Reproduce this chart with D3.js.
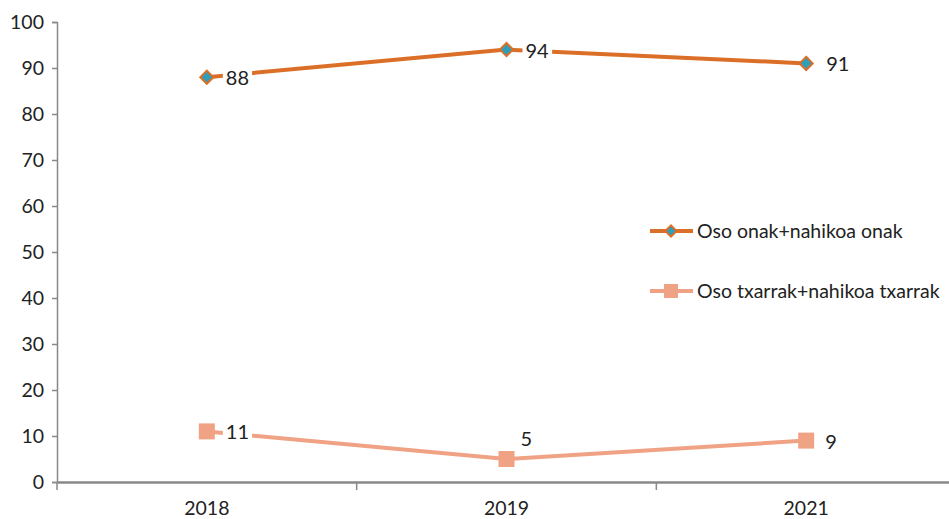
<!DOCTYPE html>
<html>
<head>
<meta charset="utf-8">
<script src="https://cdn.jsdelivr.net/npm/d3@7"></script>
<style>
  body { margin: 0; background: #fff; }
  svg text { font-family: Lato, "Open Sans", sans-serif; fill: #222; }
</style>
</head>
<body>
<div id="chart"></div>
<script>
const years = ['2018', '2019', '2021'];
const onak = [88, 94, 91];
const txarrak = [11, 5, 9];
const seriesNames = ['Oso onak+nahikoa onak', 'Oso txarrak+nahikoa txarrak'];
const yTicks = [0, 10, 20, 30, 40, 50, 60, 70, 80, 90, 100];

const width = 949, height = 519;
const orange = '#dc6f28', teal = '#2f9fb9', salmon = '#f0a284';

const svg = d3.select('#chart').append('svg')
    .attr('width', width)
    .attr('height', height);

const x = d3.scaleBand().domain(years).range([57, 956]);
const y = d3.scaleLinear().domain([0, 100]).range([482, 22]);

// y axis
const yAxis = svg.append('g')
    .attr('transform', 'translate(57,0)')
    .call(d3.axisLeft(y).tickValues(yTicks).tickSize(5).tickPadding(8));
yAxis.select('.domain').attr('stroke', '#888').attr('stroke-width', 1.5);
yAxis.selectAll('.tick line').attr('stroke', '#888').attr('stroke-width', 1.5);
yAxis.selectAll('.tick text').attr('font-size', 19.5).attr('fill', '#222')
    .style('font-family', 'Lato, sans-serif');

// x axis
const xAxis = svg.append('g')
    .attr('transform', 'translate(0,482)')
    .call(d3.axisBottom(x).tickSize(0).tickPadding(19));
xAxis.select('.domain').attr('stroke', '#888').attr('stroke-width', 2.5);
xAxis.selectAll('.tick text').attr('font-size', 19.5).attr('fill', '#222')
    .style('font-family', 'Lato, sans-serif');
// tick marks between categories
svg.append('g').selectAll('line')
    .data(years.map(d => x(d)).concat([x.range()[1]]))
    .join('line')
    .attr('x1', d => d).attr('x2', d => d)
    .attr('y1', 482).attr('y2', 490)
    .attr('stroke', '#888').attr('stroke-width', 1.5);

const cx = d => x(d) + x.bandwidth() / 2;
const line = d3.line().x((d, i) => cx(years[i])).y(d => y(d));

// series lines
svg.append('path').datum(onak)
    .attr('d', line).attr('fill', 'none')
    .attr('stroke', orange).attr('stroke-width', 4);
svg.append('path').datum(txarrak)
    .attr('d', line).attr('fill', 'none')
    .attr('stroke', salmon).attr('stroke-width', 4);

// data labels with white boxes
const labelPos = [
    [{dx: 19, dy: 1}, {dx: 19, dy: 1}, {dx: 20, dy: 1}],
    [{dx: 19, dy: 1}, {dx: 14, dy: -20}, {dx: 19, dy: 1}]
];
function addLabels(vals, pos) {
    vals.forEach((v, i) => {
        const px = cx(years[i]) + pos[i].dx;
        const py = y(v) + pos[i].dy;
        const g = svg.append('g');
        const t = g.append('text')
            .attr('x', px).attr('y', py)
            .attr('dy', '0.35em')
            .attr('font-size', 20)
            .text(v);
        const bb = t.node().getBBox();
        g.insert('rect', 'text')
            .attr('x', bb.x - 3).attr('y', bb.y)
            .attr('width', bb.width + 6).attr('height', bb.height)
            .attr('fill', '#fff');
    });
}
addLabels(onak, labelPos[0]);
addLabels(txarrak, labelPos[1]);

// markers
const diamond = d3.symbol().type(d3.symbolDiamond2).size(110);
svg.append('g').selectAll('path')
    .data(onak).join('path')
    .attr('d', diamond)
    .attr('transform', (d, i) => `translate(${cx(years[i])},${y(d)})`)
    .attr('fill', teal).attr('stroke', orange).attr('stroke-width', 2);
svg.append('g').selectAll('rect')
    .data(txarrak).join('rect')
    .attr('x', (d, i) => cx(years[i]) - 8)
    .attr('y', d => y(d) - 8)
    .attr('width', 16).attr('height', 16)
    .attr('fill', salmon);

// legend
const legend = svg.append('g');
const legendY = [231, 291];
legend.append('line').attr('x1', 650).attr('x2', 693)
    .attr('y1', legendY[0]).attr('y2', legendY[0])
    .attr('stroke', orange).attr('stroke-width', 4);
legend.append('path').attr('d', d3.symbol().type(d3.symbolDiamond2).size(80))
    .attr('transform', `translate(671,${legendY[0]})`)
    .attr('fill', teal).attr('stroke', orange).attr('stroke-width', 2);
legend.append('line').attr('x1', 650).attr('x2', 693)
    .attr('y1', legendY[1]).attr('y2', legendY[1])
    .attr('stroke', salmon).attr('stroke-width', 4);
legend.append('rect').attr('x', 664).attr('y', legendY[1] - 7)
    .attr('width', 14).attr('height', 14).attr('fill', salmon);
seriesNames.forEach((name, i) => {
    legend.append('text')
        .attr('x', 697).attr('y', legendY[i])
        .attr('dy', '0.35em')
        .attr('font-size', 19.5)
        .text(name);
});
</script>
</body>
</html>
